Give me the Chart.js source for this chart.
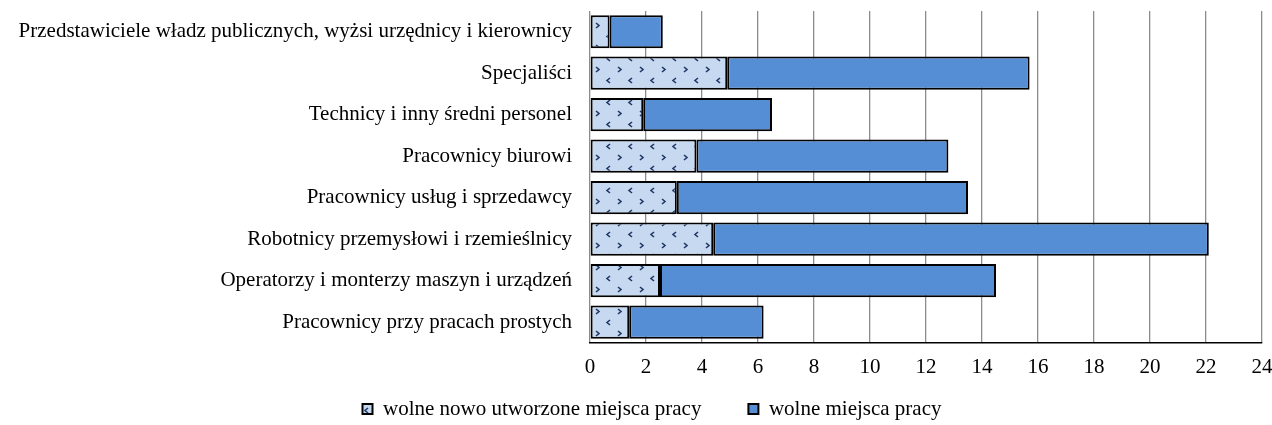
<!DOCTYPE html>
<html>
<head>
<meta charset="utf-8">
<script src="https://cdn.jsdelivr.net/npm/chart.js@4"></script>
<style>
    html, body { margin: 0; padding: 0; background: #fff; }
</style>
</head>
<body>
<canvas id="dataChart" width="1272" height="425"></canvas>
<script>
var categories = [
    'Przedstawiciele władz publicznych, wyżsi urzędnicy i kierownicy',
    'Specjaliści',
    'Technicy i inny średni personel',
    'Pracownicy biurowi',
    'Pracownicy usług i sprzedawcy',
    'Robotnicy przemysłowi i rzemieślnicy',
    'Operatorzy i monterzy maszyn i urządzeń',
    'Pracownicy przy pracach prostych'
];
var seriesNames = ['wolne nowo utworzone miejsca pracy', 'wolne miejsca pracy'];
// newly created vacancies (patterned part)
var newVacancies = [0.7, 4.9, 1.9, 3.8, 3.1, 4.4, 2.5, 1.4];
// remaining vacancies (blue part)
var otherVacancies = [1.9, 10.8, 4.6, 9.0, 10.4, 17.7, 12.0, 4.8];
var xMin = 0;
var xMax = 24;
var xStep = 2;

var chartInstance;
var labelFont = { family: 'Liberation Serif, Times New Roman, serif', size: 21 };

function makePattern() {
    var c = document.createElement('canvas');
    c.width = 22;
    c.height = 22;
    var p = c.getContext('2d');
    p.fillStyle = '#c6d9f1';
    p.fillRect(0, 0, 22, 22);
    p.strokeStyle = '#1f3864';
    p.lineWidth = 1.6;
    // ">" mark
    p.beginPath();
    p.moveTo(2, 1);
    p.lineTo(5, 3.5);
    p.lineTo(2, 6);
    p.stroke();
    // "<" mark
    p.beginPath();
    p.moveTo(16, 12);
    p.lineTo(13, 14.5);
    p.lineTo(16, 17);
    p.stroke();
    return p.createPattern(c, 'repeat');
}

// nudge the legend to where the original one sits
var legendShift = {
    id: 'legendShift',
    afterLayout: function (chart) {
        var lg = chart.legend;
        if (!lg) return;
        lg.left += 21;
        lg.right += 21;
        lg.top -= 40.5;
    }
};

var ctx = document.getElementById('dataChart').getContext('2d');
chartInstance = new Chart(ctx, {
    type: 'bar',
    data: {
        labels: categories,
        datasets: [{
            label: seriesNames[0],
            data: newVacancies,
            backgroundColor: makePattern(),
            borderColor: '#000',
            borderWidth: 2,
            borderSkipped: false,
            barPercentage: 0.8,
            categoryPercentage: 1
        }, {
            label: seriesNames[1],
            data: otherVacancies,
            backgroundColor: '#558ed5',
            borderColor: '#000',
            borderWidth: 2,
            borderSkipped: false,
            barPercentage: 0.8,
            categoryPercentage: 1
        }]
    },
    options: {
        indexAxis: 'y',
        responsive: false,
        animation: false,
        devicePixelRatio: 1,
        layout: { padding: { left: 0, right: 10, top: 11, bottom: 0 } },
        scales: {
            x: {
                stacked: true,
                min: xMin,
                max: xMax,
                ticks: { stepSize: xStep, color: '#000', padding: 12, font: labelFont },
                grid: { color: '#8c8c8c', lineWidth: 1.3, drawTicks: false },
                border: { color: '#000', width: 1.5 },
                afterFit: function (scale) {
                    scale.paddingLeft = 0;
                    scale.paddingRight = 0;
                }
            },
            y: {
                stacked: true,
                grid: { display: false, drawTicks: false },
                border: { display: false },
                ticks: { color: '#000', padding: 18, font: labelFont },
                afterFit: function (scale) {
                    scale.width = 590;
                    scale.paddingTop = 0;
                    scale.paddingBottom = 0;
                }
            }
        },
        plugins: {
            legend: {
                position: 'bottom',
                maxHeight: 33,
                labels: {
                    color: '#000',
                    font: labelFont,
                    boxWidth: 10,
                    boxHeight: 10,
                    padding: 47
                }
            },
            tooltip: { enabled: false }
        }
    },
    plugins: [legendShift]
});
</script>
</body>
</html>
